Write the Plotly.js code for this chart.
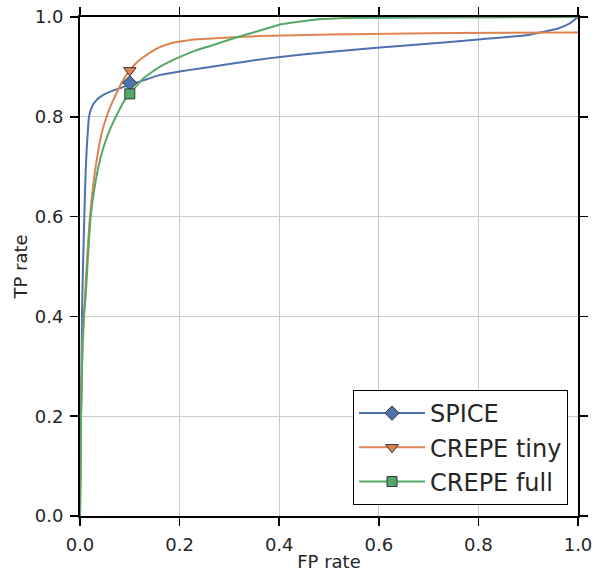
<!DOCTYPE html>
<html>
<head>
<meta charset="utf-8">
<script src="https://cdn.plot.ly/plotly-3.0.1.min.js"></script>
<style>html,body{margin:0;padding:0;background:#fff;}#chart{width:601px;height:572px;}</style>
</head>
<body>
<div id="chart"></div>
<script>
// Series names
const seriesNames = ["SPICE", "CREPE tiny", "CREPE full"];

// SPICE ROC curve
const spiceFP = [0, 0.001, 0.002, 0.003, 0.004, 0.006, 0.0087, 0.011, 0.0134, 0.016, 0.018, 0.024, 0.0335, 0.047, 0.07, 0.094, 0.13, 0.161, 0.2, 0.241, 0.3, 0.362, 0.402, 0.5, 0.602, 0.642, 0.743, 0.8, 0.9, 0.929, 0.96, 0.983, 1.0];
const spiceTP = [0, 0.1, 0.2, 0.3, 0.4, 0.5, 0.6, 0.68, 0.734, 0.775, 0.8, 0.82, 0.834, 0.844, 0.854, 0.862, 0.874, 0.884, 0.891, 0.897, 0.906, 0.915, 0.92, 0.93, 0.939, 0.942, 0.95, 0.955, 0.964, 0.970, 0.977, 0.987, 1.0];

// CREPE tiny ROC curve
const tinyFP = [0, 0.002, 0.005, 0.01, 0.015, 0.02, 0.025, 0.0315, 0.0435, 0.055, 0.067, 0.087, 0.1, 0.115, 0.134, 0.155, 0.181, 0.228, 0.3, 0.362, 0.5, 0.743, 1.0];
const tinyTP = [0, 0.2, 0.35, 0.44, 0.53, 0.6, 0.65, 0.70, 0.767, 0.805, 0.834, 0.874, 0.893, 0.91, 0.924, 0.937, 0.947, 0.955, 0.959, 0.962, 0.965, 0.968, 0.969];

// CREPE full ROC curve
const fullFP = [0, 0.002, 0.005, 0.008, 0.0114, 0.016, 0.0214, 0.028, 0.037, 0.046, 0.057, 0.072, 0.09, 0.1, 0.127, 0.16, 0.194, 0.23, 0.268, 0.31, 0.341, 0.362, 0.402, 0.475, 0.542, 0.7, 1.0];
const fullTP = [0, 0.2, 0.33, 0.4, 0.44, 0.52, 0.6, 0.65, 0.70, 0.735, 0.767, 0.80, 0.834, 0.846, 0.877, 0.9, 0.917, 0.932, 0.944, 0.958, 0.967, 0.973, 0.985, 0.995, 0.998, 0.999, 1.0];

// Operating points (marked)
const opFP = [0.1, 0.1, 0.1];
const opTP = [0.868, 0.893, 0.846];

const colors = ["#4c72b0", "#dd8452", "#55a868"];
const symbols = ["diamond", "triangle-down", "square"];
const msizes = [11, 11, 10];

const curvesX = [spiceFP, tinyFP, fullFP];
const curvesY = [spiceTP, tinyTP, fullTP];

const traces = [];
for (let i = 0; i < 3; i++) {
  traces.push({
    x: curvesX[i], y: curvesY[i], type: "scatter", mode: "lines",
    line: {color: colors[i], width: 2, shape: "spline", smoothing: 0.4},
    showlegend: false, hoverinfo: "skip"
  });
}
for (let i = 0; i < 3; i++) {
  traces.push({
    x: [opFP[i]], y: [opTP[i]], type: "scatter", mode: "lines+markers",
    name: seriesNames[i],
    line: {color: colors[i], width: 2},
    marker: {color: colors[i], symbol: symbols[i], size: msizes[i], line: {color: "#333333", width: 1}},
    showlegend: true
  });
}

const axisCommon = {
  range: [0, 1], dtick: 0.2, tick0: 0, tickformat: ".1f",
  showline: true, linecolor: "#000", linewidth: 2, mirror: "ticks",
  ticks: "outside", ticklen: 8, tickwidth: 1.5, tickcolor: "#000",
  showgrid: true, gridcolor: "#cbcbcb", gridwidth: 1, zeroline: false,
  ticklabelstandoff: 3,
  tickfont: {family: "DejaVu Sans", size: 18, color: "#262626"}
};

const layout = {
  width: 601, height: 572,
  margin: {l: 80, r: 23, t: 17, b: 56},
  paper_bgcolor: "#fff", plot_bgcolor: "#fff",
  font: {family: "DejaVu Sans", color: "#262626"},
  xaxis: Object.assign({}, axisCommon, {title: {text: "FP rate", font: {size: 18, color: "#262626"}, standoff: 6}}),
  yaxis: Object.assign({}, axisCommon, {title: {text: "TP rate", font: {size: 18, color: "#262626"}, standoff: 2}}),
  legend: {
    x: 0.98, y: 0.022, xanchor: "right", yanchor: "bottom",
    bgcolor: "#fff", bordercolor: "#000", borderwidth: 1,
    itemwidth: 66,
    font: {family: "DejaVu Sans", size: 24, color: "#262626"},
    traceorder: "normal"
  }
};

Plotly.newPlot("chart", traces, layout, {displayModeBar: false, staticPlot: true});
</script>
</body>
</html>
